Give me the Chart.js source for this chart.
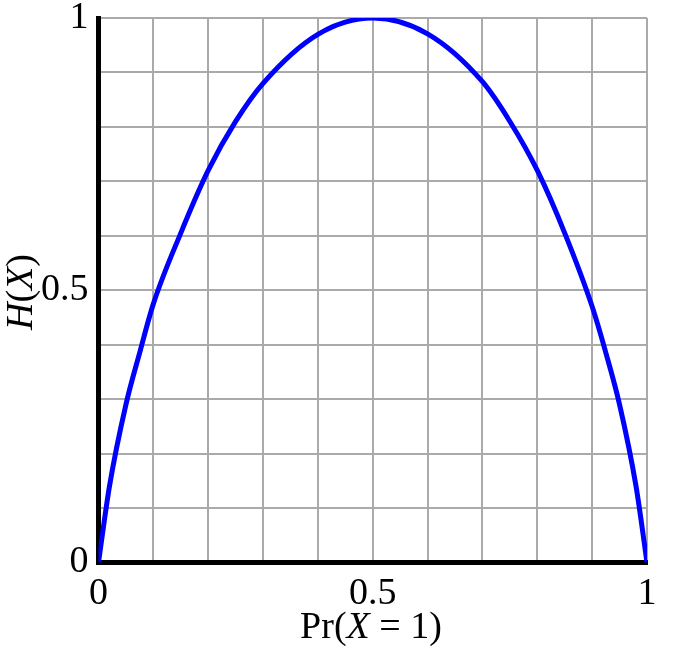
<!DOCTYPE html>
<html>
<head>
<meta charset="utf-8">
<script src="https://cdn.jsdelivr.net/npm/chart.js@4/dist/chart.umd.min.js"></script>
<style>
  html, body { margin: 0; padding: 0; background: #fff; }
  #wrap { position: relative; width: 689px; height: 662px; }
  .axis-title { position: absolute; font-family: "Liberation Serif", "DejaVu Serif", serif; font-size: 38px; color: #000; white-space: nowrap; line-height: 1; }
  #xtitle { left: 371px; top: 606px; transform: translateX(-50%); }
  #ytitle { left: 19px; top: 292px; transform: translate(-50%, -50%) rotate(-90deg); }
</style>
</head>
<body>
<div id="wrap">
  <canvas id="entropyChart" width="689" height="662"></canvas>
  <div class="axis-title" id="xtitle">Pr(<i>X</i> = 1)</div>
  <div class="axis-title" id="ytitle"><i>H</i>(<i>X</i>)</div>
</div>
<script>
// values
const probs = [0, 0.02, 0.05, 0.075, 0.1, 0.15, 0.2, 0.25, 0.3, 0.4, 0.5, 0.6, 0.7, 0.75, 0.8, 0.85, 0.9, 0.925, 0.95, 0.98, 1];
const entropy = [0, 0.14, 0.29, 0.385, 0.475, 0.605, 0.72, 0.81, 0.88, 0.97, 1, 0.971, 0.883, 0.81, 0.72, 0.605, 0.47, 0.385, 0.29, 0.14, 0];
const shownTicks = [0, 0.5, 1];

const serif = '"Liberation Serif", "DejaVu Serif", serif';

function tickLabel(v) {
    for (const t of shownTicks) {
        if (Math.abs(v - t) < 1e-9) return String(t);
    }
    return '';
}

new Chart(document.getElementById('entropyChart'), {
    type: 'line',
    data: {
        datasets: [{
            data: probs.map((p, i) => ({ x: p, y: entropy[i] })),
            borderColor: '#0000ff',
            borderWidth: 5,
            pointRadius: 0,
            fill: false,
            cubicInterpolationMode: 'monotone'
        }]
    },
    options: {
        responsive: false,
        animation: false,
        layout: { padding: { top: 18, right: 42, left: 0, bottom: 0 } },
        plugins: { legend: { display: false }, tooltip: { enabled: false } },
        scales: {
            x: {
                type: 'linear', min: 0, max: 1,
                afterFit: s => { s.height = 99.5; s.paddingLeft = 0; s.paddingRight = 0; },
                border: { color: '#000', width: 5 },
                grid: { color: '#aaaaaa', lineWidth: 2, drawTicks: false },
                ticks: {
                    stepSize: 0.1, autoSkip: false, maxRotation: 0,
                    padding: 9, color: '#000',
                    font: { family: serif, size: 38 },
                    callback: v => tickLabel(v)
                }
            },
            y: {
                type: 'linear', min: 0, max: 1,
                afterFit: s => { s.width = 98.5; s.paddingTop = 0; s.paddingBottom = 0; },
                border: { color: '#000', width: 5 },
                grid: { color: '#aaaaaa', lineWidth: 2, drawTicks: false },
                ticks: {
                    stepSize: 0.1, autoSkip: false,
                    padding: 10, color: '#000',
                    font: { family: serif, size: 38 },
                    callback: v => tickLabel(v)
                }
            }
        }
    }
});
</script>
</body>
</html>
